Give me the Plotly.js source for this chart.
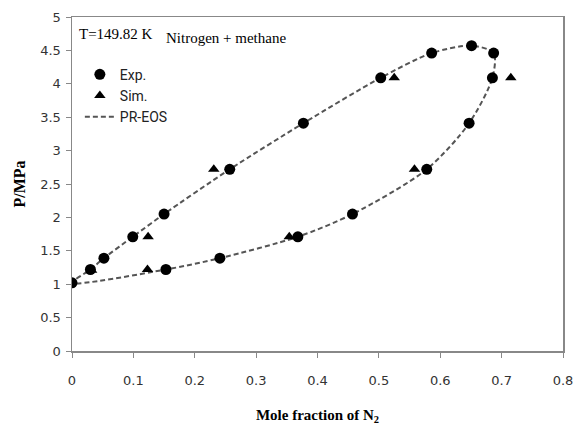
<!DOCTYPE html>
<html>
<head>
<meta charset="utf-8">
<script src="https://cdn.plot.ly/plotly-3.0.1.min.js"></script>
<style>html,body{margin:0;padding:0;background:#fff;}#chart{width:575px;height:427px;}</style>
</head>
<body>
<div id="chart"></div>
<script>
// Experimental data (circles)
var expX = [0, 0.030, 0.052, 0.099, 0.150, 0.257, 0.377, 0.503, 0.586, 0.651, 0.687, 0.685, 0.647, 0.578, 0.457, 0.368, 0.241, 0.153];
var expY = [1.02, 1.22, 1.39, 1.71, 2.05, 2.72, 3.41, 4.09, 4.46, 4.57, 4.46, 4.09, 3.41, 2.72, 2.05, 1.71, 1.39, 1.22];
// Simulation data (triangles)
var simX = [0.032, 0.123, 0.124, 0.231, 0.354, 0.525, 0.558, 0.715];
var simY = [1.21, 1.22, 1.71, 2.72, 1.71, 4.09, 2.72, 4.09];
// PR-EOS curve (closed loop: bubble branch up, dew branch down)
var eosX = [0, 0.030, 0.052, 0.099, 0.150, 0.257, 0.377, 0.503, 0.586, 0.651, 0.687, 0.685, 0.647, 0.578, 0.457, 0.368, 0.241, 0.153, 0];
var eosY = [1.02, 1.22, 1.39, 1.71, 2.05, 2.72, 3.41, 4.09, 4.46, 4.57, 4.46, 4.09, 3.41, 2.72, 2.05, 1.71, 1.39, 1.22, 1.02];
var xTicks = [0, 0.1, 0.2, 0.3, 0.4, 0.5, 0.6, 0.7, 0.8];
var yTicks = [0, 0.5, 1, 1.5, 2, 2.5, 3, 3.5, 4, 4.5, 5];

var traces = [
  {x: eosX, y: eosY, mode: 'lines', name: 'PR-EOS', type: 'scatter', legendrank: 3,
   line: {shape: 'spline', smoothing: 0.8, color: '#555', width: 2, dash: '5px,3px'}},
  {x: expX, y: expY, mode: 'markers', name: 'Exp.', type: 'scatter', legendrank: 1,
   marker: {symbol: 'circle', size: 11, color: '#000'}},
  {x: simX, y: simY, mode: 'markers', name: 'Sim.', type: 'scatter', legendrank: 2,
   marker: {symbol: 'triangle-up', size: 10, color: '#000'}}
];

var layout = {
  width: 575, height: 427,
  margin: {l: 72, r: 12, t: 17, b: 76},
  paper_bgcolor: '#fff', plot_bgcolor: '#fff',
  showlegend: true,
  legend: {x: 0.016, y: 0.875, xanchor: 'left', yanchor: 'top', bgcolor: 'rgba(0,0,0,0)',
           traceorder: 'normal',
           font: {family: 'Roboto, sans-serif', size: 14, color: '#222'}, tracegroupgap: 0},
  xaxis: {range: [0, 0.8], tickvals: xTicks, ticktext: xTicks.map(String),
          showgrid: false, zeroline: false, showline: true, linecolor: '#888', linewidth: 1.5,
          mirror: true, ticks: 'outside', ticklen: 5, tickcolor: '#888', ticklabelstandoff: 12,
          tickfont: {family: 'DejaVu Sans, sans-serif', size: 13, color: '#333'},
          title: {text: 'Mole fraction of N<sub>2</sub>', standoff: 22,
                  font: {family: 'Liberation Serif, serif', size: 15, color: '#000', weight: 'bold'}}},
  yaxis: {range: [0, 5], tickvals: yTicks, ticktext: yTicks.map(String),
          showgrid: false, zeroline: false, showline: true, linecolor: '#888', linewidth: 1.5,
          mirror: true, ticks: 'outside', ticklen: 5, tickcolor: '#888', ticklabelstandoff: 2,
          tickfont: {family: 'DejaVu Sans, sans-serif', size: 13, color: '#333'},
          title: {text: 'P/MPa', standoff: 10,
                  font: {family: 'Liberation Serif, serif', size: 16, color: '#000', weight: 'bold'}}},
  annotations: [
    {xref: 'paper', yref: 'paper', x: 0.01, y: 0.949, xanchor: 'left', yanchor: 'middle',
     text: 'T=149.82 K', showarrow: false,
     font: {family: 'Liberation Serif, serif', size: 15, color: '#000'}},
    {xref: 'paper', yref: 'paper', x: 0.187, y: 0.937, xanchor: 'left', yanchor: 'middle',
     text: 'Nitrogen + methane', showarrow: false,
     font: {family: 'Liberation Serif, serif', size: 15, color: '#000'}}
  ]
};

Plotly.newPlot('chart', traces, layout, {staticPlot: true, displayModeBar: false});
</script>
</body>
</html>
